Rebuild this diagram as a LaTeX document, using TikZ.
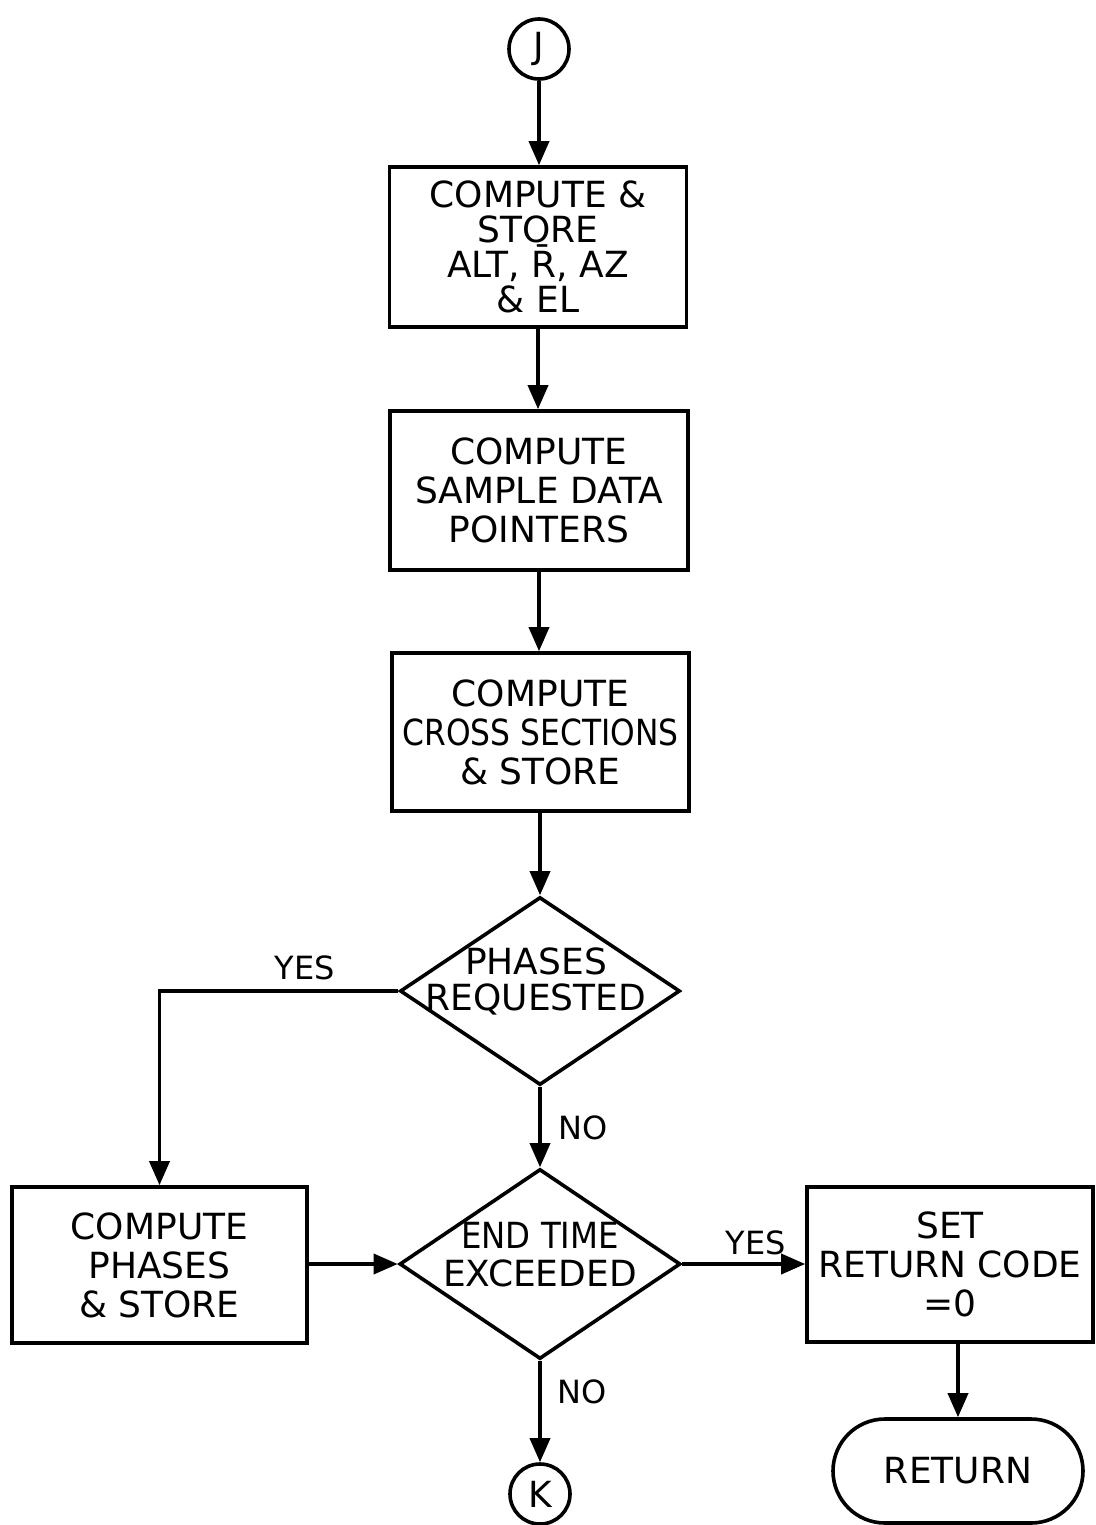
\documentclass[tikz,border=0pt]{standalone}
\usepackage{fontspec}
\setmainfont{DejaVu Sans}
\usetikzlibrary{shapes.geometric,arrows.meta}
\begin{document}
\begin{tikzpicture}[x=0.5pt,y=-0.5pt,
  every node/.style={font=\fontsize{18}{19.5}\selectfont},
  proc/.style={draw, line width=1.8pt, rectangle, align=center, inner sep=0pt},
  dec/.style={draw, line width=1.8pt, diamond, inner sep=0pt},
  conn/.style={draw, line width=1.8pt, circle, minimum size=30pt, inner sep=0pt},
  term/.style={draw, line width=1.8pt, rectangle, rounded corners=26pt, inner sep=0pt},
  flow/.style={line width=1.8pt, -{Triangle[length=12pt,width=10pt]}},
  lbl/.style={font=\fontsize{16}{18}\selectfont}]
\useasboundingbox (0,0) rectangle (1096,1525);

\node[conn] (J) at (539,49) {J};
\node[proc, minimum width=148.5pt, minimum height=80pt, font=\fontsize{18}{17.5}\selectfont] (b1) at (538,247) {COMPUTE \&\\STORE\\ALT, \=R, AZ\\\& EL};
\node[proc, minimum width=149pt, minimum height=79.5pt] (b2) at (539,490.5) {COMPUTE\\SAMPLE DATA\\POINTERS};
\node[proc, minimum width=148.5pt, minimum height=79pt] (b3) at (540.5,732) {COMPUTE\\\scalebox{0.87}[1]{CROSS SECTIONS}\\\& STORE};
\node[dec, minimum width=140pt, minimum height=94pt] (d1) at (540,991) {};
\node[align=center, font=\fontsize{18}{18}\selectfont] (t1) at (536,981) {PHASES\\REQUESTED};
\node[proc, minimum width=147.5pt, minimum height=78pt] (ph) at (159.5,1265) {COMPUTE\\PHASES\\\& STORE};
\node[dec, minimum width=140.5pt, minimum height=95pt] (d2) at (540,1264) {};
\node[align=center, font=\fontsize{18}{19}\selectfont] (t2) at (540,1255) {\scalebox{0.9}[1]{END TIME}\\EXCEEDED};
\node[proc, minimum width=143pt, minimum height=77.5pt] (sr) at (950,1264.5) {SET\\RETURN CODE\\=0};
\node[conn] (K) at (540,1494) {K};
\node[term, minimum width=125pt, minimum height=52pt] (ret) at (958,1471) {RETURN};

\draw[flow] (J) -- (J |- b1.north);
\draw[flow] (b1.south) -- (b1.south |- b2.north);
\draw[flow] (b2.south) -- (b2.south |- b3.north);
\draw[flow] (b3.south -| d1.north) -- (d1.north);
\draw[flow] (d1.west) -| (ph.north);
\draw[flow] (d1.south) -- (d2.north);
\draw[flow] (d2.west -| ph.east) -- (d2.west);
\draw[flow] (d2.east) -- (d2.east -| sr.west);
\draw[flow] (d2.south) -- (K);
\draw[flow] (sr.south -| ret.north) -- (ret.north);

\node[lbl] at (305,968) {YES};
\node[lbl] at (583,1128) {NO};
\node[lbl] at (756,1243) {YES};
\node[lbl] at (582,1392) {NO};
\end{tikzpicture}
\end{document}
